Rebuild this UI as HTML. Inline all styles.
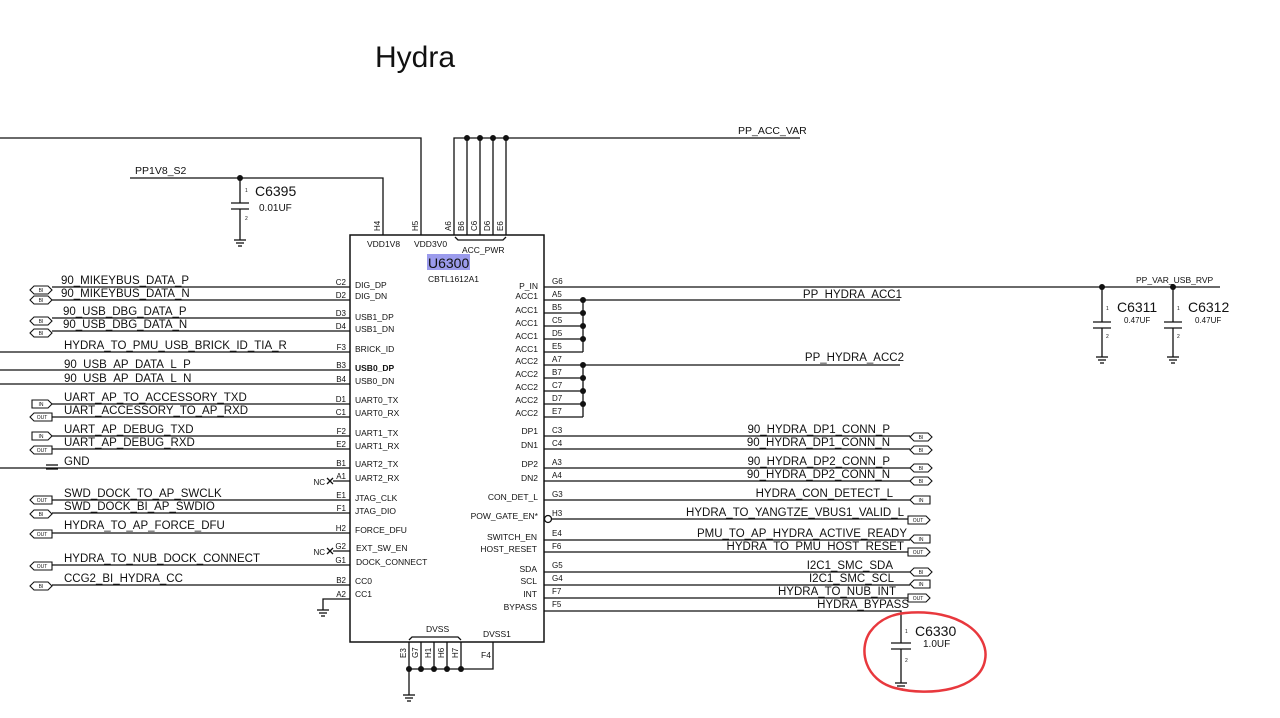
<!DOCTYPE html>
<html><head><meta charset="utf-8"><style>
html,body{margin:0;padding:0;background:#fff;}
svg{display:block}
text{font-family:"Liberation Sans",sans-serif;fill:#111}
.s{font-size:11.5px}
.p{font-size:8.5px}
.n{font-size:8px}
.f{font-size:5px;text-anchor:middle}
</style></head><body>
<svg width="1280" height="718" viewBox="0 0 1280 718" xmlns="http://www.w3.org/2000/svg">
<g stroke="#111" stroke-width="1.3" fill="none">
<!-- top wiring -->
<polyline points="0,138 421,138 421,235"/>
<polyline points="130,178 383,178 383,235"/>
<line x1="240" y1="178" x2="240" y2="203"/>
<line x1="231" y1="203" x2="249" y2="203"/><line x1="231" y1="209" x2="249" y2="209"/>
<line x1="240" y1="209" x2="240" y2="240"/>
<line x1="234" y1="240" x2="246" y2="240"/><line x1="236" y1="243" x2="244" y2="243"/><line x1="238" y1="246" x2="242" y2="246"/>
<polyline points="454,235 454,138 800,138"/>
<line x1="467" y1="138" x2="467" y2="235"/><line x1="480" y1="138" x2="480" y2="235"/>
<line x1="493" y1="138" x2="493" y2="235"/><line x1="506" y1="138" x2="506" y2="235"/>
<path d="M455,237 l3,3 h45 l3,-3"/>
<!-- box -->
<rect x="350" y="235" width="194" height="407" stroke-width="1.5"/>
<!-- left lines -->
<line x1="52" y1="287" x2="350" y2="287"/><line x1="52" y1="300" x2="350" y2="300"/>
<line x1="52" y1="318" x2="350" y2="318"/><line x1="52" y1="331" x2="350" y2="331"/>
<line x1="0" y1="352" x2="350" y2="352"/>
<line x1="0" y1="370" x2="350" y2="370"/><line x1="0" y1="384" x2="350" y2="384"/>
<line x1="52" y1="404" x2="350" y2="404"/><line x1="52" y1="417" x2="350" y2="417"/>
<line x1="52" y1="436" x2="350" y2="436"/><line x1="52" y1="449" x2="350" y2="449"/>
<line x1="0" y1="468" x2="350" y2="468"/>
<line x1="46" y1="465" x2="58" y2="465"/><line x1="46" y1="469" x2="58" y2="469"/>
<line x1="333" y1="481" x2="350" y2="481"/>
<path d="M327,478 l6,6 M333,478 l-6,6"/>
<line x1="52" y1="500" x2="350" y2="500"/><line x1="52" y1="513" x2="350" y2="513"/>
<line x1="52" y1="533" x2="350" y2="533"/>
<line x1="333" y1="551" x2="350" y2="551"/>
<path d="M327,548 l6,6 M333,548 l-6,6"/>
<line x1="52" y1="565" x2="350" y2="565"/>
<line x1="52" y1="585" x2="350" y2="585"/>
<polyline points="350,599 323,599 323,610"/>
<line x1="317" y1="610" x2="329" y2="610"/><line x1="319" y1="613" x2="327" y2="613"/><line x1="321" y1="616" x2="325" y2="616"/>
<!-- right lines -->
<line x1="544" y1="287" x2="1220" y2="287"/>
<line x1="544" y1="300" x2="900" y2="300"/>
<line x1="544" y1="313" x2="583" y2="313"/><line x1="544" y1="326" x2="583" y2="326"/>
<line x1="544" y1="339" x2="583" y2="339"/><line x1="544" y1="352" x2="583" y2="352"/>
<line x1="583" y1="300" x2="583" y2="352"/>
<line x1="544" y1="365" x2="900" y2="365"/>
<line x1="544" y1="378" x2="583" y2="378"/><line x1="544" y1="391" x2="583" y2="391"/>
<line x1="544" y1="404" x2="583" y2="404"/><line x1="544" y1="417" x2="583" y2="417"/>
<line x1="583" y1="365" x2="583" y2="417"/>
<line x1="544" y1="436" x2="910" y2="436"/><line x1="544" y1="449" x2="910" y2="449"/>
<line x1="544" y1="468" x2="910" y2="468"/><line x1="544" y1="481" x2="910" y2="481"/>
<line x1="544" y1="500" x2="910" y2="500"/>
<line x1="552" y1="519" x2="910" y2="519"/>
<circle cx="548" cy="519" r="3.5" fill="#fff"/>
<line x1="544" y1="540" x2="910" y2="540"/><line x1="544" y1="552" x2="910" y2="552"/>
<line x1="544" y1="572" x2="910" y2="572"/><line x1="544" y1="585" x2="910" y2="585"/>
<line x1="544" y1="598" x2="910" y2="598"/>
<polyline points="544,611 901,611 901,643"/>
<line x1="891" y1="643" x2="911" y2="643"/><line x1="891" y1="649" x2="911" y2="649"/>
<line x1="901" y1="649" x2="901" y2="683"/>
<line x1="895" y1="683" x2="907" y2="683"/><line x1="897" y1="686" x2="905" y2="686"/><line x1="899" y1="689" x2="903" y2="689"/>
<!-- caps right -->
<line x1="1102" y1="287" x2="1102" y2="322"/>
<line x1="1093" y1="322" x2="1111" y2="322"/><line x1="1093" y1="328" x2="1111" y2="328"/>
<line x1="1102" y1="328" x2="1102" y2="357"/>
<line x1="1096" y1="357" x2="1108" y2="357"/><line x1="1098" y1="360" x2="1106" y2="360"/><line x1="1100" y1="363" x2="1104" y2="363"/>
<line x1="1173" y1="287" x2="1173" y2="322"/>
<line x1="1164" y1="322" x2="1182" y2="322"/><line x1="1164" y1="328" x2="1182" y2="328"/>
<line x1="1173" y1="328" x2="1173" y2="357"/>
<line x1="1167" y1="357" x2="1179" y2="357"/><line x1="1169" y1="360" x2="1177" y2="360"/><line x1="1171" y1="363" x2="1175" y2="363"/>
<!-- bottom -->
<line x1="409" y1="642" x2="409" y2="695"/>
<line x1="421" y1="642" x2="421" y2="669"/><line x1="434" y1="642" x2="434" y2="669"/>
<line x1="447" y1="642" x2="447" y2="669"/><line x1="461" y1="642" x2="461" y2="669"/>
<polyline points="409,669 493,669 493,642"/>
<path d="M409,640 l3,-3 h46 l3,3"/>
<line x1="403" y1="695" x2="415" y2="695"/><line x1="405" y1="698" x2="413" y2="698"/><line x1="407" y1="701" x2="411" y2="701"/>
</g>
<!-- dots -->
<g fill="#111">
<circle cx="240" cy="178" r="3"/>
<circle cx="467" cy="138" r="3"/><circle cx="480" cy="138" r="3"/><circle cx="493" cy="138" r="3"/><circle cx="506" cy="138" r="3"/>
<circle cx="583" cy="300" r="3"/><circle cx="583" cy="313" r="3"/><circle cx="583" cy="326" r="3"/><circle cx="583" cy="339" r="3"/>
<circle cx="583" cy="365" r="3"/><circle cx="583" cy="378" r="3"/><circle cx="583" cy="391" r="3"/><circle cx="583" cy="404" r="3"/>
<circle cx="1102" cy="287" r="3"/><circle cx="1173" cy="287" r="3"/>
<circle cx="409" cy="669" r="3"/><circle cx="421" cy="669" r="3"/><circle cx="434" cy="669" r="3"/><circle cx="447" cy="669" r="3"/><circle cx="461" cy="669" r="3"/>
</g>
<!-- flags -->
<g stroke="#111" stroke-width="1.1" fill="#fff">
<polygon points="30,290 34,286 48,286 52,290 48,294 34,294"/>
<polygon points="30,300 34,296 48,296 52,300 48,304 34,304"/>
<polygon points="30,321 34,317 48,317 52,321 48,325 34,325"/>
<polygon points="30,333 34,329 48,329 52,333 48,337 34,337"/>
<polygon points="32,400 48,400 52,404 48,408 32,408"/>
<polygon points="30,417 34,413 52,413 52,421 34,421"/>
<polygon points="32,432 48,432 52,436 48,440 32,440"/>
<polygon points="30,450 34,446 52,446 52,454 34,454"/>
<polygon points="30,500 34,496 52,496 52,504 34,504"/>
<polygon points="30,514 34,510 48,510 52,514 48,518 34,518"/>
<polygon points="30,534 34,530 52,530 52,538 34,538"/>
<polygon points="30,566 34,562 52,562 52,570 34,570"/>
<polygon points="30,586 34,582 48,582 52,586 48,590 34,590"/>
<polygon points="910,437 914,433 928,433 932,437 928,441 914,441"/>
<polygon points="910,450 914,446 928,446 932,450 928,454 914,454"/>
<polygon points="910,468 914,464 928,464 932,468 928,472 914,472"/>
<polygon points="910,481 914,477 928,477 932,481 928,485 914,485"/>
<polygon points="910,500 914,496 930,496 930,504 914,504"/>
<polygon points="908,516 926,516 930,520 926,524 908,524"/>
<polygon points="910,539 914,535 930,535 930,543 914,543"/>
<polygon points="908,548 926,548 930,552 926,556 908,556"/>
<polygon points="910,572 914,568 928,568 932,572 928,576 914,576"/>
<polygon points="910,584 914,580 930,580 930,588 914,588"/>
<polygon points="908,594 926,594 930,598 926,602 908,602"/>
</g>
<g class="f">
<text x="41" y="292" class="f">BI</text><text x="41" y="302" class="f">BI</text>
<text x="41" y="323" class="f">BI</text><text x="41" y="335" class="f">BI</text>
<text x="41" y="406" class="f">IN</text><text x="42" y="419" class="f">OUT</text>
<text x="41" y="438" class="f">IN</text><text x="42" y="452" class="f">OUT</text>
<text x="42" y="502" class="f">OUT</text><text x="41" y="516" class="f">BI</text>
<text x="42" y="536" class="f">OUT</text><text x="42" y="568" class="f">OUT</text>
<text x="41" y="588" class="f">BI</text>
<text x="921" y="439" class="f">BI</text><text x="921" y="452" class="f">BI</text>
<text x="921" y="470" class="f">BI</text><text x="921" y="483" class="f">BI</text>
<text x="921" y="502" class="f">IN</text><text x="918" y="522" class="f">OUT</text>
<text x="921" y="541" class="f">IN</text><text x="918" y="554" class="f">OUT</text>
<text x="921" y="574" class="f">BI</text><text x="921" y="586" class="f">IN</text>
<text x="918" y="600" class="f">OUT</text>
</g>
<!-- title & part -->
<text x="375" y="67" style="font-size:30px">Hydra</text>
<rect x="427" y="254" width="43" height="16" fill="#9b9bec"/>
<text x="428" y="268" style="font-size:14px">U6300</text>
<text x="428" y="282" class="p">CBTL1612A1</text>
<text x="367" y="247" class="p">VDD1V8</text>
<text x="414" y="247" class="p">VDD3V0</text>
<text x="462" y="253" class="p">ACC_PWR</text>
<text x="426" y="632" class="p">DVSS</text>
<text x="483" y="637" class="p">DVSS1</text>
<!-- rotated pin nums -->
<g class="n">
<text transform="translate(380,231) rotate(-90)">H4</text>
<text transform="translate(418,231) rotate(-90)">H5</text>
<text transform="translate(451,231) rotate(-90)">A6</text>
<text transform="translate(464,231) rotate(-90)">B6</text>
<text transform="translate(477,231) rotate(-90)">C6</text>
<text transform="translate(490,231) rotate(-90)">D6</text>
<text transform="translate(503,231) rotate(-90)">E6</text>
<text transform="translate(406,658) rotate(-90)">E3</text>
<text transform="translate(418,658) rotate(-90)">G7</text>
<text transform="translate(431,658) rotate(-90)">H1</text>
<text transform="translate(444,658) rotate(-90)">H6</text>
<text transform="translate(458,658) rotate(-90)">H7</text>
</g>
<text x="481" y="658" class="p">F4</text>
<!-- top labels -->
<text x="135" y="174" class="s" style="font-size:10.5px">PP1V8_S2</text>
<text x="738" y="134" class="s" style="font-size:10.5px">PP_ACC_VAR</text>
<text x="255" y="196" style="font-size:14px">C6395</text>
<text x="259" y="211" style="font-size:10px">0.01UF</text>
<text x="245" y="192" style="font-size:5px">1</text><text x="245" y="220" style="font-size:5px">2</text>
<text x="1136" y="283" style="font-size:8.5px">PP_VAR_USB_RVP</text>
<text x="1117" y="312" style="font-size:14px">C6311</text>
<text x="1124" y="323" style="font-size:8px">0.47UF</text>
<text x="1188" y="312" style="font-size:14px">C6312</text>
<text x="1195" y="323" style="font-size:8px">0.47UF</text>
<text x="1106" y="310" style="font-size:5px">1</text><text x="1106" y="338" style="font-size:5px">2</text>
<text x="1177" y="310" style="font-size:5px">1</text><text x="1177" y="338" style="font-size:5px">2</text>
<text x="915" y="636" style="font-size:14px">C6330</text>
<text x="923" y="647" style="font-size:10px">1.0UF</text>
<text x="905" y="633" style="font-size:5px">1</text><text x="905" y="662" style="font-size:5px">2</text>
<!-- left signal names -->
<g class="s">
<text x="61" y="284">90_MIKEYBUS_DATA_P</text>
<text x="61" y="297">90_MIKEYBUS_DATA_N</text>
<text x="63" y="315">90_USB_DBG_DATA_P</text>
<text x="63" y="328">90_USB_DBG_DATA_N</text>
<text x="64" y="349">HYDRA_TO_PMU_USB_BRICK_ID_TIA_R</text>
<text x="64" y="368">90_USB_AP_DATA_L_P</text>
<text x="64" y="382">90_USB_AP_DATA_L_N</text>
<text x="64" y="401">UART_AP_TO_ACCESSORY_TXD</text>
<text x="64" y="414">UART_ACCESSORY_TO_AP_RXD</text>
<text x="64" y="433">UART_AP_DEBUG_TXD</text>
<text x="64" y="446">UART_AP_DEBUG_RXD</text>
<text x="64" y="465">GND</text>
<text x="64" y="497">SWD_DOCK_TO_AP_SWCLK</text>
<text x="64" y="510">SWD_DOCK_BI_AP_SWDIO</text>
<text x="64" y="529">HYDRA_TO_AP_FORCE_DFU</text>
<text x="64" y="562">HYDRA_TO_NUB_DOCK_CONNECT</text>
<text x="64" y="582">CCG2_BI_HYDRA_CC</text>
</g>
<!-- left pin numbers -->
<g class="n" text-anchor="end">
<text x="346" y="285">C2</text><text x="346" y="298">D2</text>
<text x="346" y="316">D3</text><text x="346" y="329">D4</text>
<text x="346" y="350">F3</text><text x="346" y="368">B3</text><text x="346" y="382">B4</text>
<text x="346" y="402">D1</text><text x="346" y="415">C1</text>
<text x="346" y="434">F2</text><text x="346" y="447">E2</text>
<text x="346" y="466">B1</text><text x="346" y="479">A1</text>
<text x="346" y="498">E1</text><text x="346" y="511">F1</text>
<text x="346" y="531">H2</text><text x="346" y="549">G2</text><text x="346" y="563">G1</text>
<text x="346" y="583">B2</text><text x="346" y="597">A2</text>
<text x="325" y="485">NC</text><text x="325" y="555">NC</text>
</g>
<!-- left pin names -->
<g class="p">
<text x="355" y="288">DIG_DP</text><text x="355" y="299">DIG_DN</text>
<text x="355" y="320">USB1_DP</text><text x="355" y="332">USB1_DN</text>
<text x="355" y="352">BRICK_ID</text>
<text x="355" y="371" style="font-weight:bold">USB0_DP</text><text x="355" y="384">USB0_DN</text>
<text x="355" y="403">UART0_TX</text><text x="355" y="416">UART0_RX</text>
<text x="355" y="436">UART1_TX</text><text x="355" y="449">UART1_RX</text>
<text x="355" y="467">UART2_TX</text><text x="355" y="481">UART2_RX</text>
<text x="355" y="501">JTAG_CLK</text><text x="355" y="514">JTAG_DIO</text>
<text x="355" y="533">FORCE_DFU</text>
<text x="356" y="551">EXT_SW_EN</text><text x="356" y="565">DOCK_CONNECT</text>
<text x="355" y="584">CC0</text><text x="355" y="597">CC1</text>
</g>
<!-- right pin names -->
<g class="p" text-anchor="end">
<text x="538" y="289">P_IN</text><text x="538" y="299">ACC1</text>
<text x="538" y="313">ACC1</text><text x="538" y="326">ACC1</text><text x="538" y="339">ACC1</text><text x="538" y="352">ACC1</text>
<text x="538" y="364">ACC2</text><text x="538" y="377">ACC2</text><text x="538" y="390">ACC2</text><text x="538" y="403">ACC2</text><text x="538" y="416">ACC2</text>
<text x="538" y="434">DP1</text><text x="538" y="448">DN1</text>
<text x="538" y="467">DP2</text><text x="538" y="481">DN2</text>
<text x="538" y="500">CON_DET_L</text><text x="538" y="519">POW_GATE_EN*</text>
<text x="537" y="540">SWITCH_EN</text><text x="537" y="552">HOST_RESET</text>
<text x="537" y="572">SDA</text><text x="537" y="584">SCL</text><text x="537" y="597">INT</text><text x="537" y="610">BYPASS</text>
</g>
<!-- right pin numbers -->
<g class="n">
<text x="552" y="284">G6</text><text x="552" y="297">A5</text><text x="552" y="310">B5</text><text x="552" y="323">C5</text>
<text x="552" y="336">D5</text><text x="552" y="349">E5</text><text x="552" y="362">A7</text><text x="552" y="375">B7</text>
<text x="552" y="388">C7</text><text x="552" y="401">D7</text><text x="552" y="414">E7</text>
<text x="552" y="433">C3</text><text x="552" y="446">C4</text><text x="552" y="465">A3</text><text x="552" y="478">A4</text>
<text x="552" y="497">G3</text><text x="552" y="516">H3</text><text x="552" y="536">E4</text><text x="552" y="549">F6</text>
<text x="552" y="568">G5</text><text x="552" y="581">G4</text><text x="552" y="594">F7</text><text x="552" y="607">F5</text>
</g>
<!-- right signal names -->
<g class="s" text-anchor="end">
<text x="902" y="298">PP_HYDRA_ACC1</text>
<text x="904" y="361">PP_HYDRA_ACC2</text>
<text x="890" y="433">90_HYDRA_DP1_CONN_P</text>
<text x="890" y="446">90_HYDRA_DP1_CONN_N</text>
<text x="890" y="465">90_HYDRA_DP2_CONN_P</text>
<text x="890" y="478">90_HYDRA_DP2_CONN_N</text>
<text x="893" y="497">HYDRA_CON_DETECT_L</text>
<text x="904" y="516">HYDRA_TO_YANGTZE_VBUS1_VALID_L</text>
<text x="907" y="537">PMU_TO_AP_HYDRA_ACTIVE_READY</text>
<text x="904" y="550">HYDRA_TO_PMU_HOST_RESET</text>
<text x="893" y="569">I2C1_SMC_SDA</text>
<text x="894" y="582">I2C1_SMC_SCL</text>
<text x="896" y="595">HYDRA_TO_NUB_INT</text>
<text x="909" y="608">HYDRA_BYPASS</text>
</g>
<!-- red annotation -->
<path d="M905,613 C960,608 990,635 985,660 C980,690 930,697 895,688 C865,680 858,650 870,632 C880,618 895,614 905,613" stroke="#e8383d" stroke-width="2.5" fill="none"/>
</svg>
</body></html>
